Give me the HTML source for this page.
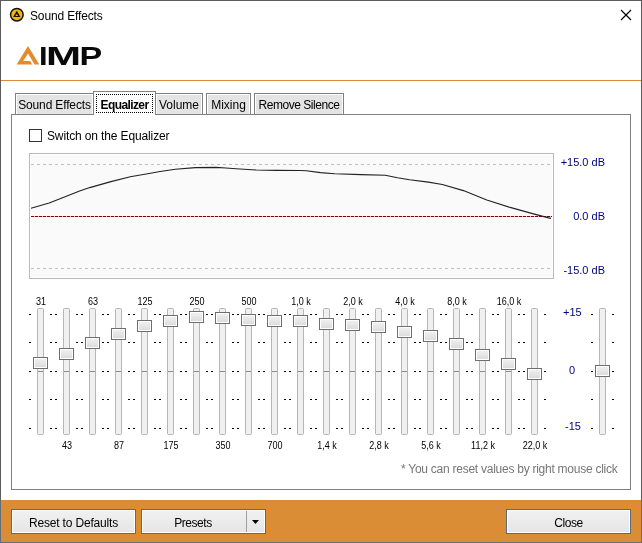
<!DOCTYPE html>
<html><head><meta charset="utf-8"><title>Sound Effects</title>
<style>
*{box-sizing:border-box}
html,body{margin:0;padding:0}
body{width:642px;height:543px;position:relative;overflow:hidden;background:#fff;font-family:"Liberation Sans",Arial,sans-serif;font-size:12px;color:#000}
.a{position:absolute}
.t{position:absolute;white-space:nowrap;line-height:14px}
.tab{position:absolute;top:93px;height:21px;border:1px solid #808080;border-bottom:none;background:#e4e4e4;box-shadow:inset 1px 1px 0 #fff, inset -1px 0 0 #fff}
.tab span{position:absolute;top:4px;left:0;right:0;text-align:center;line-height:14px;white-space:nowrap}
.fl{position:absolute;width:60px;text-align:center;font-size:10px;letter-spacing:0;transform:scaleX(0.9);line-height:11px;white-space:nowrap}
.btn{position:absolute;top:509px;height:25px;border:1px solid #606870;background:linear-gradient(#f1f1f1,#e5e5e5);box-shadow:inset 0 0 0 1px #fff;text-align:center;line-height:23px;font-size:12px}
.btn span{position:relative;top:2px}
.db{position:absolute;right:37px;font-size:11px;line-height:13px;color:#000080;white-space:nowrap}
</style></head>
<body>
<!-- window frame -->
<div class="a" style="left:0;top:0;width:642px;height:543px;border:1px solid #5c5c5c"></div>
<!-- title bar -->
<svg class="a" style="left:0;top:0" width="40" height="30" viewBox="0 0 40 30">
 <circle cx="16.85" cy="14.7" r="6.3" fill="#f5b50c" stroke="#111" stroke-width="1.5"/>
 <path d="M16.8 10.8 L20.5 17 L13.1 17 Z M16.8 14 L15.3 16 L18.3 16 Z" fill="#111" fill-rule="evenodd"/>
</svg>
<div class="t" style="left:30px;top:9px;letter-spacing:-0.15px">Sound Effects</div>
<svg class="a" style="left:615px;top:5px" width="22" height="22" viewBox="615 5 22 22">
 <path d="M621 10 L631 20 M631 10 L621 20" stroke="#000" stroke-width="1.2"/>
</svg>
<!-- logo -->
<svg class="a" style="left:10px;top:40px" width="100" height="30" viewBox="10 40 100 30">
 <path d="M28 45.9 L39.3 64.5 L34.6 64.5 L28 53.4 L23.2 60.9 L30.1 60.9 L32.3 64.5 L16.7 64.5 Z" fill="#e38b2d"/>
 <g font-family="Liberation Sans, Arial, sans-serif" font-weight="bold" font-size="26" fill="#0a0a0a">
  <text transform="translate(39 64.7) scale(1.19 1)">I</text><text transform="translate(46.1 64.7) scale(1.62 1)">M</text><text transform="translate(79.4 64.7) scale(1.31 1)">P</text>
 </g>
</svg>
<div class="a" style="left:1px;top:80px;width:640px;height:1px;background:#dd8c35"></div>

<!-- panel -->
<div class="a" style="left:11px;top:114px;width:620px;height:376px;border:1px solid #808080;background:#fff"></div>
<!-- tabs -->
<div class="tab" style="left:15px;width:79px"><span style="letter-spacing:-0.15px">Sound Effects</span></div>
<div class="tab" style="left:155px;width:48px"><span>Volume</span></div>
<div class="tab" style="left:206px;width:45px"><span>Mixing</span></div>
<div class="tab" style="left:254px;width:90px"><span style="letter-spacing:-0.45px">Remove Silence</span></div>
<div class="a" style="left:93px;top:91px;width:63px;height:24px;border:1px solid #808080;border-bottom:none;background:#fff"></div>
<div class="a" style="left:96px;top:94px;width:57px;height:19px;border:1px dotted #000"></div>
<div class="t" style="left:96px;top:98px;width:57px;text-align:center;font-weight:bold;letter-spacing:-0.6px">Equalizer</div>

<!-- checkbox -->
<div class="a" style="left:29px;top:129px;width:13px;height:13px;border:1px solid #333;background:#fff"></div>
<div class="t" style="left:47px;top:129px;letter-spacing:-0.13px">Switch on the Equalizer</div>

<!-- graph + sliders -->
<svg class="a" style="left:0;top:0" width="642" height="543" viewBox="0 0 642 543">
 <defs>
  <linearGradient id="tg" x1="0" y1="0" x2="0" y2="1"><stop offset="0" stop-color="#f3f3f3"/><stop offset="1" stop-color="#d9d9d9"/></linearGradient>
 </defs>
 <rect x="29.5" y="153.5" width="524" height="125" fill="#fff" stroke="#bababa"/>
 <rect x="31" y="155" width="521" height="122" fill="#fafafa"/>
 <line x1="31" y1="164.5" x2="552" y2="164.5" stroke="#c0c0c0" stroke-dasharray="3 3"/>
 <line x1="31" y1="268.5" x2="552" y2="268.5" stroke="#c0c0c0" stroke-dasharray="3 3"/>
 <line x1="31" y1="216.5" x2="552" y2="216.5" stroke="#e0b0b0"/>
 <line x1="31" y1="216.5" x2="552" y2="216.5" stroke="#8b0000" stroke-dasharray="3 1"/>
 <polyline points="31,208.3 49.2,203 59.4,199.1 69.5,194.9 79.6,191 89.8,187.6 110,181.9 130.3,176.7 150.5,173.2 158.6,171.8 175.3,169.2 195.5,167.6 215.8,167.4 225.9,168 236,168.8 256.3,170 276.5,170.4 300.3,170.5 306.3,170.7 320.5,172.6 334.7,173.8 361,174.6 385.3,175.2 397.5,177.8 409.6,179.8 428.4,182.1 442.4,184.5 463.4,190.6 486.8,199.9 510.1,207.4 533.5,213.9 548.7,217.9 551,218.4" fill="none" stroke="#222" stroke-width="1.1" stroke-linejoin="round"/>
 <rect x="37.5" y="308.5" width="6" height="126" rx="1" fill="#eff0ef" stroke="#b6b6b6"/><rect x="38" y="371" width="5" height="1" fill="#8a8a8a"/><rect x="29" y="314" width="2" height="1"/><rect x="50" y="314" width="2" height="1"/><rect x="29" y="342" width="2" height="1"/><rect x="50" y="342" width="2" height="1"/><rect x="29" y="371" width="2" height="1"/><rect x="50" y="371" width="2" height="1"/><rect x="29" y="399" width="2" height="1"/><rect x="50" y="399" width="2" height="1"/><rect x="29" y="428" width="2" height="1"/><rect x="50" y="428" width="2" height="1"/><rect x="33.5" y="357.5" width="14" height="11" fill="url(#tg)" stroke="#6e6e6e"/><rect x="34.5" y="358.5" width="12" height="9" fill="none" stroke="#fff"/><rect x="63.5" y="308.5" width="6" height="126" rx="1" fill="#eff0ef" stroke="#b6b6b6"/><rect x="64" y="371" width="5" height="1" fill="#8a8a8a"/><rect x="55" y="314" width="2" height="1"/><rect x="76" y="314" width="2" height="1"/><rect x="55" y="342" width="2" height="1"/><rect x="76" y="342" width="2" height="1"/><rect x="55" y="371" width="2" height="1"/><rect x="76" y="371" width="2" height="1"/><rect x="55" y="399" width="2" height="1"/><rect x="76" y="399" width="2" height="1"/><rect x="55" y="428" width="2" height="1"/><rect x="76" y="428" width="2" height="1"/><rect x="59.5" y="348.5" width="14" height="11" fill="url(#tg)" stroke="#6e6e6e"/><rect x="60.5" y="349.5" width="12" height="9" fill="none" stroke="#fff"/><rect x="89.5" y="308.5" width="6" height="126" rx="1" fill="#eff0ef" stroke="#b6b6b6"/><rect x="90" y="371" width="5" height="1" fill="#8a8a8a"/><rect x="81" y="314" width="2" height="1"/><rect x="102" y="314" width="2" height="1"/><rect x="81" y="342" width="2" height="1"/><rect x="102" y="342" width="2" height="1"/><rect x="81" y="371" width="2" height="1"/><rect x="102" y="371" width="2" height="1"/><rect x="81" y="399" width="2" height="1"/><rect x="102" y="399" width="2" height="1"/><rect x="81" y="428" width="2" height="1"/><rect x="102" y="428" width="2" height="1"/><rect x="85.5" y="337.5" width="14" height="11" fill="url(#tg)" stroke="#6e6e6e"/><rect x="86.5" y="338.5" width="12" height="9" fill="none" stroke="#fff"/><rect x="115.5" y="308.5" width="6" height="126" rx="1" fill="#eff0ef" stroke="#b6b6b6"/><rect x="116" y="371" width="5" height="1" fill="#8a8a8a"/><rect x="107" y="314" width="2" height="1"/><rect x="128" y="314" width="2" height="1"/><rect x="107" y="342" width="2" height="1"/><rect x="128" y="342" width="2" height="1"/><rect x="107" y="371" width="2" height="1"/><rect x="128" y="371" width="2" height="1"/><rect x="107" y="399" width="2" height="1"/><rect x="128" y="399" width="2" height="1"/><rect x="107" y="428" width="2" height="1"/><rect x="128" y="428" width="2" height="1"/><rect x="111.5" y="328.5" width="14" height="11" fill="url(#tg)" stroke="#6e6e6e"/><rect x="112.5" y="329.5" width="12" height="9" fill="none" stroke="#fff"/><rect x="141.5" y="308.5" width="6" height="126" rx="1" fill="#eff0ef" stroke="#b6b6b6"/><rect x="142" y="371" width="5" height="1" fill="#8a8a8a"/><rect x="133" y="314" width="2" height="1"/><rect x="154" y="314" width="2" height="1"/><rect x="133" y="342" width="2" height="1"/><rect x="154" y="342" width="2" height="1"/><rect x="133" y="371" width="2" height="1"/><rect x="154" y="371" width="2" height="1"/><rect x="133" y="399" width="2" height="1"/><rect x="154" y="399" width="2" height="1"/><rect x="133" y="428" width="2" height="1"/><rect x="154" y="428" width="2" height="1"/><rect x="137.5" y="320.5" width="14" height="11" fill="url(#tg)" stroke="#6e6e6e"/><rect x="138.5" y="321.5" width="12" height="9" fill="none" stroke="#fff"/><rect x="167.5" y="308.5" width="6" height="126" rx="1" fill="#eff0ef" stroke="#b6b6b6"/><rect x="168" y="371" width="5" height="1" fill="#8a8a8a"/><rect x="159" y="314" width="2" height="1"/><rect x="180" y="314" width="2" height="1"/><rect x="159" y="342" width="2" height="1"/><rect x="180" y="342" width="2" height="1"/><rect x="159" y="371" width="2" height="1"/><rect x="180" y="371" width="2" height="1"/><rect x="159" y="399" width="2" height="1"/><rect x="180" y="399" width="2" height="1"/><rect x="159" y="428" width="2" height="1"/><rect x="180" y="428" width="2" height="1"/><rect x="163.5" y="315.5" width="14" height="11" fill="url(#tg)" stroke="#6e6e6e"/><rect x="164.5" y="316.5" width="12" height="9" fill="none" stroke="#fff"/><rect x="193.5" y="308.5" width="6" height="126" rx="1" fill="#eff0ef" stroke="#b6b6b6"/><rect x="194" y="371" width="5" height="1" fill="#8a8a8a"/><rect x="185" y="314" width="2" height="1"/><rect x="206" y="314" width="2" height="1"/><rect x="185" y="342" width="2" height="1"/><rect x="206" y="342" width="2" height="1"/><rect x="185" y="371" width="2" height="1"/><rect x="206" y="371" width="2" height="1"/><rect x="185" y="399" width="2" height="1"/><rect x="206" y="399" width="2" height="1"/><rect x="185" y="428" width="2" height="1"/><rect x="206" y="428" width="2" height="1"/><rect x="189.5" y="311.5" width="14" height="11" fill="url(#tg)" stroke="#6e6e6e"/><rect x="190.5" y="312.5" width="12" height="9" fill="none" stroke="#fff"/><rect x="219.5" y="308.5" width="6" height="126" rx="1" fill="#eff0ef" stroke="#b6b6b6"/><rect x="220" y="371" width="5" height="1" fill="#8a8a8a"/><rect x="211" y="314" width="2" height="1"/><rect x="232" y="314" width="2" height="1"/><rect x="211" y="342" width="2" height="1"/><rect x="232" y="342" width="2" height="1"/><rect x="211" y="371" width="2" height="1"/><rect x="232" y="371" width="2" height="1"/><rect x="211" y="399" width="2" height="1"/><rect x="232" y="399" width="2" height="1"/><rect x="211" y="428" width="2" height="1"/><rect x="232" y="428" width="2" height="1"/><rect x="215.5" y="312.5" width="14" height="11" fill="url(#tg)" stroke="#6e6e6e"/><rect x="216.5" y="313.5" width="12" height="9" fill="none" stroke="#fff"/><rect x="245.5" y="308.5" width="6" height="126" rx="1" fill="#eff0ef" stroke="#b6b6b6"/><rect x="246" y="371" width="5" height="1" fill="#8a8a8a"/><rect x="237" y="314" width="2" height="1"/><rect x="258" y="314" width="2" height="1"/><rect x="237" y="342" width="2" height="1"/><rect x="258" y="342" width="2" height="1"/><rect x="237" y="371" width="2" height="1"/><rect x="258" y="371" width="2" height="1"/><rect x="237" y="399" width="2" height="1"/><rect x="258" y="399" width="2" height="1"/><rect x="237" y="428" width="2" height="1"/><rect x="258" y="428" width="2" height="1"/><rect x="241.5" y="314.5" width="14" height="11" fill="url(#tg)" stroke="#6e6e6e"/><rect x="242.5" y="315.5" width="12" height="9" fill="none" stroke="#fff"/><rect x="271.5" y="308.5" width="6" height="126" rx="1" fill="#eff0ef" stroke="#b6b6b6"/><rect x="272" y="371" width="5" height="1" fill="#8a8a8a"/><rect x="263" y="314" width="2" height="1"/><rect x="284" y="314" width="2" height="1"/><rect x="263" y="342" width="2" height="1"/><rect x="284" y="342" width="2" height="1"/><rect x="263" y="371" width="2" height="1"/><rect x="284" y="371" width="2" height="1"/><rect x="263" y="399" width="2" height="1"/><rect x="284" y="399" width="2" height="1"/><rect x="263" y="428" width="2" height="1"/><rect x="284" y="428" width="2" height="1"/><rect x="267.5" y="315.5" width="14" height="11" fill="url(#tg)" stroke="#6e6e6e"/><rect x="268.5" y="316.5" width="12" height="9" fill="none" stroke="#fff"/><rect x="297.5" y="308.5" width="6" height="126" rx="1" fill="#eff0ef" stroke="#b6b6b6"/><rect x="298" y="371" width="5" height="1" fill="#8a8a8a"/><rect x="289" y="314" width="2" height="1"/><rect x="310" y="314" width="2" height="1"/><rect x="289" y="342" width="2" height="1"/><rect x="310" y="342" width="2" height="1"/><rect x="289" y="371" width="2" height="1"/><rect x="310" y="371" width="2" height="1"/><rect x="289" y="399" width="2" height="1"/><rect x="310" y="399" width="2" height="1"/><rect x="289" y="428" width="2" height="1"/><rect x="310" y="428" width="2" height="1"/><rect x="293.5" y="315.5" width="14" height="11" fill="url(#tg)" stroke="#6e6e6e"/><rect x="294.5" y="316.5" width="12" height="9" fill="none" stroke="#fff"/><rect x="323.5" y="308.5" width="6" height="126" rx="1" fill="#eff0ef" stroke="#b6b6b6"/><rect x="324" y="371" width="5" height="1" fill="#8a8a8a"/><rect x="315" y="314" width="2" height="1"/><rect x="336" y="314" width="2" height="1"/><rect x="315" y="342" width="2" height="1"/><rect x="336" y="342" width="2" height="1"/><rect x="315" y="371" width="2" height="1"/><rect x="336" y="371" width="2" height="1"/><rect x="315" y="399" width="2" height="1"/><rect x="336" y="399" width="2" height="1"/><rect x="315" y="428" width="2" height="1"/><rect x="336" y="428" width="2" height="1"/><rect x="319.5" y="318.5" width="14" height="11" fill="url(#tg)" stroke="#6e6e6e"/><rect x="320.5" y="319.5" width="12" height="9" fill="none" stroke="#fff"/><rect x="349.5" y="308.5" width="6" height="126" rx="1" fill="#eff0ef" stroke="#b6b6b6"/><rect x="350" y="371" width="5" height="1" fill="#8a8a8a"/><rect x="341" y="314" width="2" height="1"/><rect x="362" y="314" width="2" height="1"/><rect x="341" y="342" width="2" height="1"/><rect x="362" y="342" width="2" height="1"/><rect x="341" y="371" width="2" height="1"/><rect x="362" y="371" width="2" height="1"/><rect x="341" y="399" width="2" height="1"/><rect x="362" y="399" width="2" height="1"/><rect x="341" y="428" width="2" height="1"/><rect x="362" y="428" width="2" height="1"/><rect x="345.5" y="319.5" width="14" height="11" fill="url(#tg)" stroke="#6e6e6e"/><rect x="346.5" y="320.5" width="12" height="9" fill="none" stroke="#fff"/><rect x="375.5" y="308.5" width="6" height="126" rx="1" fill="#eff0ef" stroke="#b6b6b6"/><rect x="376" y="371" width="5" height="1" fill="#8a8a8a"/><rect x="367" y="314" width="2" height="1"/><rect x="388" y="314" width="2" height="1"/><rect x="367" y="342" width="2" height="1"/><rect x="388" y="342" width="2" height="1"/><rect x="367" y="371" width="2" height="1"/><rect x="388" y="371" width="2" height="1"/><rect x="367" y="399" width="2" height="1"/><rect x="388" y="399" width="2" height="1"/><rect x="367" y="428" width="2" height="1"/><rect x="388" y="428" width="2" height="1"/><rect x="371.5" y="321.5" width="14" height="11" fill="url(#tg)" stroke="#6e6e6e"/><rect x="372.5" y="322.5" width="12" height="9" fill="none" stroke="#fff"/><rect x="401.5" y="308.5" width="6" height="126" rx="1" fill="#eff0ef" stroke="#b6b6b6"/><rect x="402" y="371" width="5" height="1" fill="#8a8a8a"/><rect x="393" y="314" width="2" height="1"/><rect x="414" y="314" width="2" height="1"/><rect x="393" y="342" width="2" height="1"/><rect x="414" y="342" width="2" height="1"/><rect x="393" y="371" width="2" height="1"/><rect x="414" y="371" width="2" height="1"/><rect x="393" y="399" width="2" height="1"/><rect x="414" y="399" width="2" height="1"/><rect x="393" y="428" width="2" height="1"/><rect x="414" y="428" width="2" height="1"/><rect x="397.5" y="326.5" width="14" height="11" fill="url(#tg)" stroke="#6e6e6e"/><rect x="398.5" y="327.5" width="12" height="9" fill="none" stroke="#fff"/><rect x="427.5" y="308.5" width="6" height="126" rx="1" fill="#eff0ef" stroke="#b6b6b6"/><rect x="428" y="371" width="5" height="1" fill="#8a8a8a"/><rect x="419" y="314" width="2" height="1"/><rect x="440" y="314" width="2" height="1"/><rect x="419" y="342" width="2" height="1"/><rect x="440" y="342" width="2" height="1"/><rect x="419" y="371" width="2" height="1"/><rect x="440" y="371" width="2" height="1"/><rect x="419" y="399" width="2" height="1"/><rect x="440" y="399" width="2" height="1"/><rect x="419" y="428" width="2" height="1"/><rect x="440" y="428" width="2" height="1"/><rect x="423.5" y="330.5" width="14" height="11" fill="url(#tg)" stroke="#6e6e6e"/><rect x="424.5" y="331.5" width="12" height="9" fill="none" stroke="#fff"/><rect x="453.5" y="308.5" width="6" height="126" rx="1" fill="#eff0ef" stroke="#b6b6b6"/><rect x="454" y="371" width="5" height="1" fill="#8a8a8a"/><rect x="445" y="314" width="2" height="1"/><rect x="466" y="314" width="2" height="1"/><rect x="445" y="342" width="2" height="1"/><rect x="466" y="342" width="2" height="1"/><rect x="445" y="371" width="2" height="1"/><rect x="466" y="371" width="2" height="1"/><rect x="445" y="399" width="2" height="1"/><rect x="466" y="399" width="2" height="1"/><rect x="445" y="428" width="2" height="1"/><rect x="466" y="428" width="2" height="1"/><rect x="449.5" y="338.5" width="14" height="11" fill="url(#tg)" stroke="#6e6e6e"/><rect x="450.5" y="339.5" width="12" height="9" fill="none" stroke="#fff"/><rect x="479.5" y="308.5" width="6" height="126" rx="1" fill="#eff0ef" stroke="#b6b6b6"/><rect x="480" y="371" width="5" height="1" fill="#8a8a8a"/><rect x="471" y="314" width="2" height="1"/><rect x="492" y="314" width="2" height="1"/><rect x="471" y="342" width="2" height="1"/><rect x="492" y="342" width="2" height="1"/><rect x="471" y="371" width="2" height="1"/><rect x="492" y="371" width="2" height="1"/><rect x="471" y="399" width="2" height="1"/><rect x="492" y="399" width="2" height="1"/><rect x="471" y="428" width="2" height="1"/><rect x="492" y="428" width="2" height="1"/><rect x="475.5" y="349.5" width="14" height="11" fill="url(#tg)" stroke="#6e6e6e"/><rect x="476.5" y="350.5" width="12" height="9" fill="none" stroke="#fff"/><rect x="505.5" y="308.5" width="6" height="126" rx="1" fill="#eff0ef" stroke="#b6b6b6"/><rect x="506" y="371" width="5" height="1" fill="#8a8a8a"/><rect x="497" y="314" width="2" height="1"/><rect x="518" y="314" width="2" height="1"/><rect x="497" y="342" width="2" height="1"/><rect x="518" y="342" width="2" height="1"/><rect x="497" y="371" width="2" height="1"/><rect x="518" y="371" width="2" height="1"/><rect x="497" y="399" width="2" height="1"/><rect x="518" y="399" width="2" height="1"/><rect x="497" y="428" width="2" height="1"/><rect x="518" y="428" width="2" height="1"/><rect x="501.5" y="358.5" width="14" height="11" fill="url(#tg)" stroke="#6e6e6e"/><rect x="502.5" y="359.5" width="12" height="9" fill="none" stroke="#fff"/><rect x="531.5" y="308.5" width="6" height="126" rx="1" fill="#eff0ef" stroke="#b6b6b6"/><rect x="532" y="371" width="5" height="1" fill="#8a8a8a"/><rect x="523" y="314" width="2" height="1"/><rect x="544" y="314" width="2" height="1"/><rect x="523" y="342" width="2" height="1"/><rect x="544" y="342" width="2" height="1"/><rect x="523" y="371" width="2" height="1"/><rect x="544" y="371" width="2" height="1"/><rect x="523" y="399" width="2" height="1"/><rect x="544" y="399" width="2" height="1"/><rect x="523" y="428" width="2" height="1"/><rect x="544" y="428" width="2" height="1"/><rect x="527.5" y="368.5" width="14" height="11" fill="url(#tg)" stroke="#6e6e6e"/><rect x="528.5" y="369.5" width="12" height="9" fill="none" stroke="#fff"/><rect x="599.5" y="308.5" width="6" height="126" rx="1" fill="#eff0ef" stroke="#b6b6b6"/><rect x="591" y="314" width="2" height="1"/><rect x="612" y="314" width="2" height="1"/><rect x="591" y="342" width="2" height="1"/><rect x="612" y="342" width="2" height="1"/><rect x="591" y="371" width="2" height="1"/><rect x="612" y="371" width="2" height="1"/><rect x="591" y="399" width="2" height="1"/><rect x="612" y="399" width="2" height="1"/><rect x="591" y="428" width="2" height="1"/><rect x="612" y="428" width="2" height="1"/><rect x="595.5" y="365.5" width="14" height="11" fill="url(#tg)" stroke="#6e6e6e"/><rect x="596.5" y="366.5" width="12" height="9" fill="none" stroke="#fff"/>
</svg>
<div class="db" style="top:156px">+15.0 dB</div>
<div class="db" style="top:210px">0.0 dB</div>
<div class="db" style="top:264px">-15.0 dB</div>

<div class="fl" style="left:11px;top:296px">31</div><div class="fl" style="left:63px;top:296px">63</div><div class="fl" style="left:115px;top:296px">125</div><div class="fl" style="left:167px;top:296px">250</div><div class="fl" style="left:219px;top:296px">500</div><div class="fl" style="left:271px;top:296px">1,0 k</div><div class="fl" style="left:323px;top:296px">2,0 k</div><div class="fl" style="left:375px;top:296px">4,0 k</div><div class="fl" style="left:427px;top:296px">8,0 k</div><div class="fl" style="left:479px;top:296px">16,0 k</div><div class="fl" style="left:37px;top:440px">43</div><div class="fl" style="left:89px;top:440px">87</div><div class="fl" style="left:141px;top:440px">175</div><div class="fl" style="left:193px;top:440px">350</div><div class="fl" style="left:245px;top:440px">700</div><div class="fl" style="left:297px;top:440px">1,4 k</div><div class="fl" style="left:349px;top:440px">2,8 k</div><div class="fl" style="left:401px;top:440px">5,6 k</div><div class="fl" style="left:453px;top:440px">11,2 k</div><div class="fl" style="left:505px;top:440px">22,0 k</div>
<div class="t" style="left:563px;top:305px;font-size:11px;color:#000080">+15</div>
<div class="t" style="left:569px;top:363px;font-size:11px;color:#000080">0</div>
<div class="t" style="left:565px;top:419px;font-size:11px;color:#000080">-15</div>

<div class="t" style="left:401px;top:462px;color:#767676;letter-spacing:-0.255px">* You can reset values by right mouse click</div>

<!-- bottom bar -->
<div class="a" style="left:1px;top:500px;width:640px;height:42px;background:#db8d35"></div>
<div class="a" style="left:0;top:500px;width:1px;height:43px;background:#646e78"></div>
<div class="a" style="left:641px;top:500px;width:1px;height:43px;background:#646e78"></div>
<div class="a" style="left:0;top:542px;width:642px;height:1px;background:#646e78"></div>
<div class="btn" style="left:11px;width:125px"><span style="letter-spacing:-0.18px">Reset to Defaults</span></div>
<div class="btn" style="left:141px;width:125px"><span style="position:absolute;left:0;top:2px;width:102px;text-align:center;letter-spacing:-0.43px">Presets</span>
 <div class="a" style="left:104px;top:1px;width:1px;height:21px;background:#a0a0a0"></div>
 <svg class="a" style="left:110px;top:10px" width="8" height="5"><path d="M0 0 L7 0 L3.5 4 Z" fill="#000"/></svg>
</div>
<div class="btn" style="left:506px;width:125px"><span style="letter-spacing:-0.4px">Close</span></div>
</body></html>
